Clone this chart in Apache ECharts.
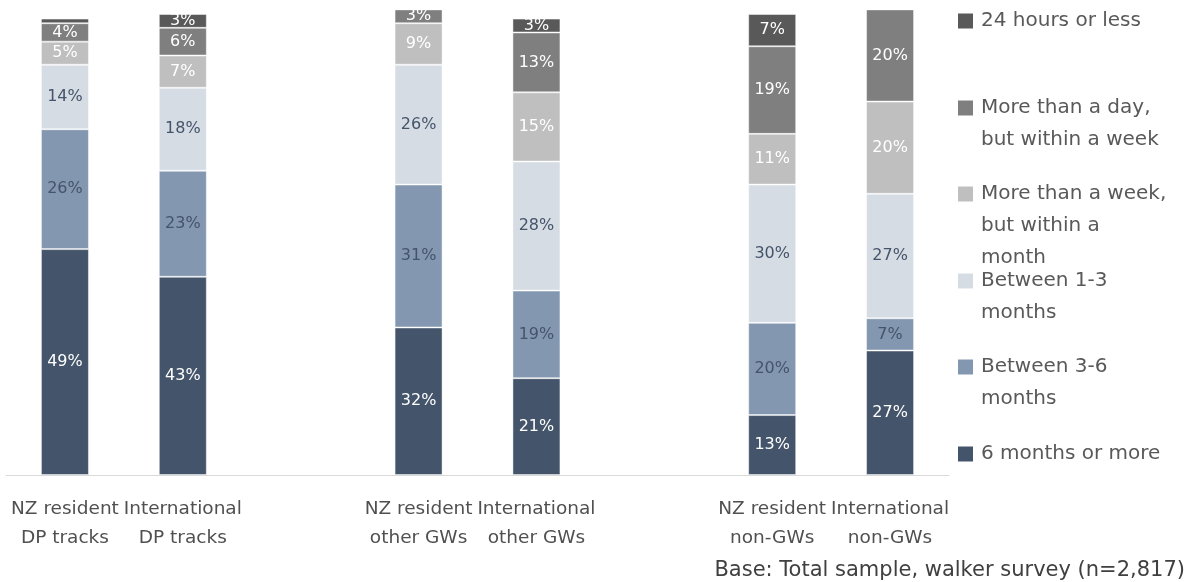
<!DOCTYPE html>
<html>
<head>
<meta charset="utf-8">
<script src="https://cdn.jsdelivr.net/npm/echarts@6/dist/echarts.min.js"></script>
<style>
  html, body { margin: 0; padding: 0; background: #ffffff; }
  #chart { width: 1187px; height: 582px; }
</style>
</head>
<body>
<div id="chart"></div>
<script>
// Visitor groups along the x axis; empty slots separate the three track types
const categories = [
  'NZ resident\nDP tracks', 'International\nDP tracks', '',
  'NZ resident\nother GWs', 'International\nother GWs', '',
  'NZ resident\nnon-GWs', 'International\nnon-GWs'
];

// Share of walkers (%) per time band, bottom of the stack first
const sixMonthsOrMore = [49, 43, null, 32, 21, null, 13, 27];
const between3to6     = [26, 23, null, 31, 19, null, 20, 7];
const between1to3     = [14, 18, null, 26, 28, null, 30, 27];
const weekToMonth     = [5, 7, null, 9, 15, null, 11, 20];
const dayToWeek       = [4, 6, null, 3, 13, null, 19, 20];
const hours24OrLess   = [1, 3, null, 0, 3, null, 7, 0];

const seriesNames = [
  '6 months or more',
  'Between 3-6 months',
  'Between 1-3 months',
  'More than a week, but within a month',
  'More than a day, but within a week',
  '24 hours or less'
];
const legendLines = {
  '24 hours or less': '24 hours or less',
  'More than a day, but within a week': 'More than a day,\nbut within a week',
  'More than a week, but within a month': 'More than a week,\nbut within a\nmonth',
  'Between 1-3 months': 'Between 1-3\nmonths',
  'Between 3-6 months': 'Between 3-6\nmonths',
  '6 months or more': '6 months or more'
};
const seriesData = [sixMonthsOrMore, between3to6, between1to3, weekToMonth, dayToWeek, hours24OrLess];
const colors = ['#44546A', '#8497B0', '#D6DCE4', '#BFBFBF', '#7F7F7F', '#595959'];
const labelColors = ['#ffffff', '#44546A', '#44546A', '#ffffff', '#ffffff', '#ffffff'];

const FONT = 'DejaVu Sans';
const chart = echarts.init(document.getElementById('chart'), null, { renderer: 'canvas' });

const series = seriesNames.map((name, i) => ({
  name,
  type: 'bar',
  stack: 'total',
  barWidth: 48,
  clip: false,
  data: seriesData[i],
  itemStyle: { color: colors[i], borderColor: 'rgba(255,255,255,0.45)', borderWidth: 1 },
  label: {
    show: true,
    position: 'inside',
    color: labelColors[i],
    fontFamily: FONT,
    fontSize: 16,
    formatter: p => (p.value >= 2 ? p.value + '%' : '')
  },
  emphasis: { disabled: true }
}));

// One legend per entry; leading blank lines keep the marker beside the first text line
const markerY = [21, 108, 194, 281, 367, 454];
const legendOrder = seriesNames.slice().reverse();
const LH = 32;
const legends = legendOrder.map((name, k) => {
  const n = legendLines[name].split('\n').length;
  return {
    data: [name],
    left: 958,
    top: markerY[k] - (2 * n - 1) * LH / 2,
    padding: 0,
    itemWidth: 21,
    itemHeight: 15,
    itemGap: 0,
    icon: 'path://M0,0H10V10H0Z',
    itemStyle: { borderWidth: 0 },
    selectedMode: false,
    formatter: nm => ' \n'.repeat(n - 1) + legendLines[nm],
    textStyle: {
      fontFamily: FONT,
      fontSize: 20,
      color: '#595959',
      lineHeight: LH
    }
  };
});

chart.setOption({
  backgroundColor: '#ffffff',
  animation: false,
  color: colors,
  grid: { left: 6, right: 238, top: 14, bottom: 107, containLabel: false },
  legend: legends,
  xAxis: {
    type: 'category',
    data: categories,
    axisLine: { show: true, lineStyle: { color: '#D9D9D9', width: 1 } },
    axisTick: { show: false },
    axisLabel: {
      interval: 0,
      margin: 20,
      fontFamily: FONT,
      fontSize: 18.5,
      lineHeight: 29,
      color: '#505050'
    }
  },
  yAxis: {
    type: 'value',
    min: 0,
    max: 100,
    show: false,
    splitLine: { show: false }
  },
  series,
  graphic: [{
    type: 'text',
    right: 2,
    top: 560,
    style: {
      text: 'Base: Total sample, walker survey (n=2,817)',
      fontFamily: FONT,
      fontSize: 21,
      fill: '#404040'
    }
  }]
});
</script>
</body>
</html>
